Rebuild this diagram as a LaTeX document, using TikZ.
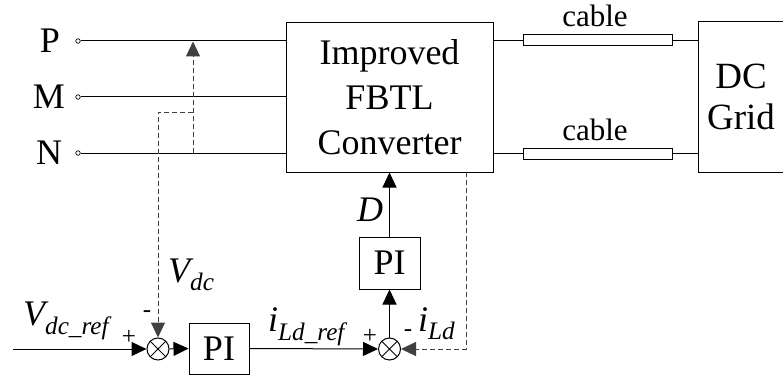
\documentclass[tikz,border=0pt]{standalone}
\usepackage{fontspec}
\setmainfont{Liberation Serif}
\usetikzlibrary{arrows.meta}
\tikzset{
  every picture/.style={x=1pt,y=-1pt},
  ln/.style={line width=1pt},
  tipa/.tip={Triangle[length=15pt,width=14pt]},
  arr/.style={ln,-tipa},
  dsh/.style={line width=1pt,dash pattern=on 5pt off 3pt,color=black!75},
  blk/.style={draw,line width=1pt,inner sep=0pt,align=center,font=\fontsize{36}{45}\selectfont},
  term/.style={circle,draw,fill=white,line width=0.7pt,minimum size=4.5pt,inner sep=0pt},
  cab/.style={draw,line width=1pt,minimum width=149pt,minimum height=11pt,inner sep=0pt},
  sumj/.style={circle,draw,line width=1pt,minimum size=22pt,inner sep=0pt,
    path picture={\draw[line width=1pt] (path picture bounding box.north west)--(path picture bounding box.south east)
      (path picture bounding box.north east)--(path picture bounding box.south west);}},
  big/.style={font=\fontsize{36}{45}\selectfont,inner sep=0pt},
  lab/.style={font=\fontsize{36}{40}\selectfont\itshape,inner sep=0pt},
  sgn/.style={font=\fontsize{25}{28}\selectfont,inner sep=0pt},
}
\begin{document}
\begin{tikzpicture}
\useasboundingbox (0,0) rectangle (783,377);
\clip (0,0) rectangle (783,377);
% converter and grid
\node[blk,minimum width=207pt,minimum height=149pt] (conv) at (389.5,97.5) {Improved\\FBTL\\Converter};
\node[draw,line width=1pt,minimum width=110pt,minimum height=150pt,anchor=west] (grid) at (698,97) {};
\node[font=\fontsize{37}{41}\selectfont,align=center,inner sep=0pt] (gridtxt) at (741,97) {DC\\Grid};
% terminals
\node[term] (tP) at (78,41) {};
\node[term] (tM) at (78,97) {};
\node[term] (tN) at (78,153) {};
\node[big,anchor=base] (lP) at (50,52.5) {P};
\node[big,anchor=base] (lM) at (49,108.5) {M};
\node[big,anchor=base] (lN) at (49,164.5) {N};
\draw[ln] (tP) -- (conv.west |- tP);
\draw[ln] (tM) -- (conv.west |- tM);
\draw[ln] (tN) -- (conv.west |- tN);
% cables
\node[cab] (cab1) at (597.5,40.5) {};
\node[cab] (cab2) at (597.5,153.5) {};
\node[font=\fontsize{31}{36}\selectfont,inner sep=0pt,anchor=base] (cl1) at (595,27) {cable};
\node[font=\fontsize{31}{36}\selectfont,inner sep=0pt,anchor=base] (cl2) at (595,140) {cable};
\draw[ln] (conv.east |- cab1) -- (cab1.west);
\draw[ln] (cab1.east) -- (grid.west |- cab1);
\draw[ln] (conv.east |- cab2) -- (cab2.west);
\draw[ln] (cab2.east) -- (grid.west |- cab2);
% control
\node[sumj] (s1) at (158,349) {};
\node[sumj] (s2) at (389.5,349) {};
\node[blk,minimum width=60pt,minimum height=51pt] (pi1) at (219,348.5) {PI};
\node[blk,minimum width=61pt,minimum height=52pt] (pi2) at (389.5,263) {PI};
\coordinate (in) at (13,349);
\draw[arr] (in) -- (s1.west);
\draw[arr] (s1.east) -- (pi1.west);
\draw[arr] (pi1.east) -- (s2.west);
\draw[arr] (s2.north) -- (pi2.south);
\draw[arr] (pi2.north) -- (conv.south);
% dashed measurements
\coordinate (dn) at (193,153);
\coordinate (dp) at (193,41.5);
\coordinate (db) at (193,112);
\draw[dsh,-tipa] (dn) -- (dp);
\draw[dsh,-tipa] (db) -| (s1.north);
\coordinate (fb) at (466,172);
\draw[dsh,-tipa] (fb) |- (s2.east);
% labels
\node[lab,anchor=base west] (vdc) at (168,282) {V\textsubscript{dc}};
\node[lab,anchor=base west] (vref) at (23,325) {V\textsubscript{dc\_ref}};
\node[lab,anchor=base west] (iref) at (268,331) {i\textsubscript{Ld\_ref}};
\node[lab,anchor=base west] (ild) at (418,331) {i\textsubscript{Ld}};
\node[lab,anchor=base] (dl) at (370,221) {D};
\node[sgn] (m1) at (147,314) {-};
\node[sgn] (p1) at (129,337) {+};
\node[sgn] (p2) at (370,336) {+};
\node[sgn] (m2) at (408,333) {-};
\end{tikzpicture}
\end{document}
